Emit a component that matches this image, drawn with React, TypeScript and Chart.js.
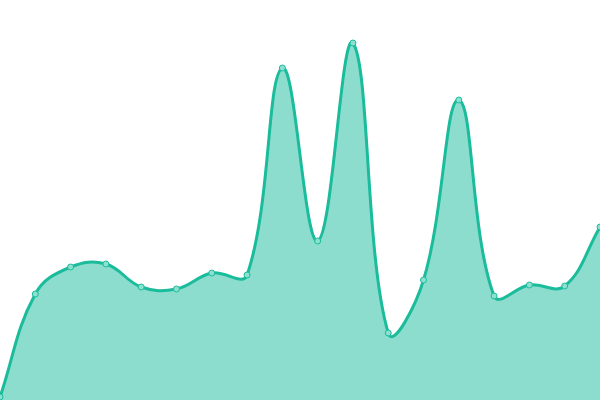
import { useEffect, useRef } from "react";
import { Chart, registerables } from "chart.js";

Chart.register(...registerables);

const labels = [
  "1", "2", "3", "4", "5", "6", "7", "8", "9",
  "10", "11", "12", "13", "14", "15", "16", "17", "18",
];
const values = [3, 106, 133, 136, 113, 111, 127, 125, 332, 159, 357, 67, 120, 300, 104, 115, 114, 173];

export default function App() {
  const canvasRef = useRef<HTMLCanvasElement>(null);
  const chartRef = useRef<Chart | null>(null);

  useEffect(() => {
    if (!canvasRef.current) return;
    const ctx = canvasRef.current.getContext("2d");
    if (!ctx) return;

    if (chartRef.current) chartRef.current.destroy();

    chartRef.current = new Chart(ctx, {
      type: "line",
      data: {
        labels,
        datasets: [
          {
            data: values,
            borderColor: "#1abc9c",
            backgroundColor: "rgba(26, 188, 156, 0.5)",
            borderWidth: 3,
            fill: true,
            tension: 0.4,
            pointRadius: 3,
            pointBorderWidth: 1,
            pointBackgroundColor: "#8ce0cf",
            pointBorderColor: "#1abc9c",
          },
        ],
      },
      options: {
        responsive: true,
        maintainAspectRatio: false,
        animation: false,
        layout: { padding: 0, autoPadding: false },
        plugins: {
          legend: { display: false },
          tooltip: { enabled: false },
        },
        scales: {
          x: { display: false },
          y: { display: false, min: 0, max: 400 },
        },
      },
    });

    return () => {
      if (chartRef.current) {
        chartRef.current.destroy();
        chartRef.current = null;
      }
    };
  }, []);

  return (
    <div style={{ position: "fixed", left: 0, top: 0, width: 600, height: 400, background: "#fff" }}>
      <canvas ref={canvasRef} />
    </div>
  );
}
